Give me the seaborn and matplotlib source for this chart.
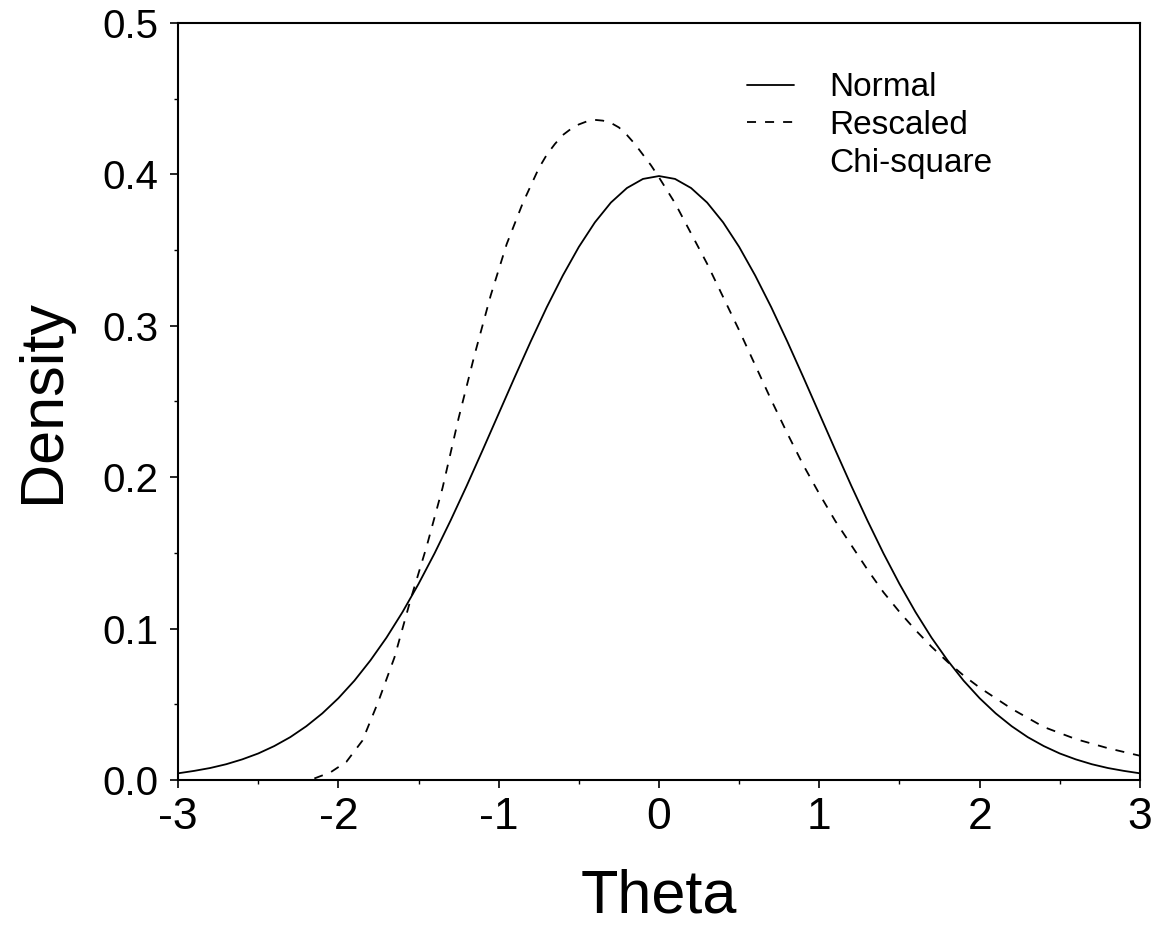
import numpy as np
import pandas as pd
import seaborn as sns
import matplotlib.pyplot as plt
from matplotlib.lines import Line2D
from matplotlib.ticker import MultipleLocator

# values
normal_theta = [-3.0, -2.9, -2.8, -2.7, -2.6, -2.5, -2.4, -2.3, -2.2, -2.1, -2.0,
                -1.9, -1.8, -1.7, -1.6, -1.5, -1.4, -1.3, -1.2, -1.1, -1.0,
                -0.9, -0.8, -0.7, -0.6, -0.5, -0.4, -0.3, -0.2, -0.1, 0.0,
                0.1, 0.2, 0.3, 0.4, 0.5, 0.6, 0.7, 0.8, 0.9, 1.0,
                1.1, 1.2, 1.3, 1.4, 1.5, 1.6, 1.7, 1.8, 1.9, 2.0,
                2.1, 2.2, 2.3, 2.4, 2.5, 2.6, 2.7, 2.8, 2.9, 3.0]
normal_density = [0.0044, 0.0060, 0.0079, 0.0104, 0.0136, 0.0175, 0.0224, 0.0283, 0.0355, 0.0440, 0.0540,
                  0.0656, 0.0790, 0.0940, 0.1109, 0.1295, 0.1497, 0.1714, 0.1942, 0.2179, 0.2420,
                  0.2661, 0.2897, 0.3123, 0.3332, 0.3521, 0.3683, 0.3814, 0.3910, 0.3970, 0.3989,
                  0.3970, 0.3910, 0.3814, 0.3683, 0.3521, 0.3332, 0.3123, 0.2897, 0.2661, 0.2420,
                  0.2179, 0.1942, 0.1714, 0.1497, 0.1295, 0.1109, 0.0940, 0.0790, 0.0656, 0.0540,
                  0.0440, 0.0355, 0.0283, 0.0224, 0.0175, 0.0136, 0.0104, 0.0079, 0.0060, 0.0044]

chisq_theta = [-2.15, -2.05, -1.95, -1.85, -1.75, -1.65, -1.55, -1.45, -1.35, -1.25,
               -1.15, -1.05, -0.95, -0.85, -0.75, -0.70, -0.65, -0.60, -0.55, -0.50,
               -0.45, -0.40, -0.35, -0.30, -0.25, -0.20, -0.15, -0.10, -0.05, 0.0,
               0.1, 0.2, 0.3, 0.4, 0.5, 0.6, 0.7, 0.8, 0.9, 1.0,
               1.1, 1.2, 1.3, 1.4, 1.5, 1.6, 1.7, 1.8, 1.9, 2.0, 2.2, 2.4, 2.6, 2.8, 3.0]
chisq_density = [0.001, 0.005, 0.012, 0.026, 0.052, 0.081, 0.119, 0.154, 0.193, 0.239,
                 0.281, 0.320, 0.354, 0.381, 0.404, 0.413, 0.420, 0.426, 0.430, 0.433,
                 0.435, 0.436, 0.4355, 0.434, 0.431, 0.426, 0.420, 0.413, 0.406, 0.398,
                 0.381, 0.361, 0.341, 0.319, 0.297, 0.274, 0.251, 0.229, 0.208, 0.189,
                 0.171, 0.155, 0.139, 0.124, 0.111, 0.099, 0.088, 0.078, 0.069, 0.061,
                 0.047, 0.035, 0.027, 0.021, 0.016]

x_ticks = [-3, -2, -1, 0, 1, 2, 3]
y_ticks = [0.0, 0.1, 0.2, 0.3, 0.4, 0.5]
legend_labels = ["Normal", "Rescaled", "Chi-square"]

sns.set_style("ticks")
plt.rcParams['font.family'] = ['Liberation Sans', 'DejaVu Sans']
plt.rcParams['axes.unicode_minus'] = False
plt.rcParams['text.color'] = 'black'
plt.rcParams['axes.labelcolor'] = 'black'

fig = plt.figure(figsize=(11.51, 9.27), dpi=100)
ax = fig.add_axes([0.1547, 0.1586, 0.8357, 0.8166])

sns.lineplot(x=normal_theta, y=normal_density, ax=ax, color="black",
             linewidth=1.3, sort=False, estimator=None)
sns.lineplot(x=chisq_theta, y=chisq_density, ax=ax, color="black",
             linewidth=1.3, sort=False, estimator=None)
ax.lines[1].set_dashes([5, 5])

ax.set_xlim(-3, 3)
ax.set_ylim(0, 0.5)
ax.set_xticks(x_ticks)
ax.set_xticklabels([str(t) for t in x_ticks])
ax.set_yticks(y_ticks)
ax.set_yticklabels([f"{t:.1f}" for t in y_ticks])
ax.xaxis.set_minor_locator(MultipleLocator(0.5))
ax.yaxis.set_minor_locator(MultipleLocator(0.05))

for side in ax.spines.values():
    side.set_visible(True)
    side.set_linewidth(1.5)
    side.set_color("black")

ax.tick_params(axis="both", which="major", direction="out", length=6, width=1.2,
               color="black", labelcolor="black")
ax.tick_params(axis="both", which="minor", direction="out", length=3, width=1.0,
               color="black")
ax.tick_params(axis="x", labelsize=32, pad=6)
ax.tick_params(axis="y", labelsize=29, pad=8)

ax.set_xlabel("Theta", fontsize=44, labelpad=22)
ax.set_ylabel("Density", fontsize=44, labelpad=22)

handles = [Line2D([], [], color="black", linewidth=1.3),
           Line2D([], [], color="black", linewidth=1.3, dashes=[5, 5]),
           Line2D([], [], color="none")]
ax.legend(handles, legend_labels, loc="upper left", bbox_to_anchor=(0.592, 0.935),
          frameon=False, fontsize=24, handlelength=1.4, handletextpad=1.05,
          labelspacing=0.2, borderpad=0, borderaxespad=0)

fig.savefig("out.png", dpi=100)
